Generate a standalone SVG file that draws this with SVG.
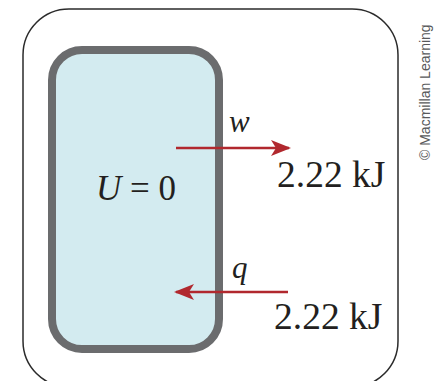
<svg xmlns="http://www.w3.org/2000/svg" width="438" height="381" viewBox="0 0 438 381">
<style>
.lbl{font-family:"Liberation Serif","Times New Roman",serif;fill:#231f20;}
.it{font-style:italic;}
.arr{stroke:#b1282e;stroke-width:2.5;fill:none;}
</style>
<defs>
<marker id="ah" viewBox="0 0 20 16" refX="18" refY="8" markerWidth="20" markerHeight="16" markerUnits="userSpaceOnUse" orient="auto">
<path d="M0,0 L20,8 L0,16 L5,8 Z" fill="#b1282e"/>
</marker>
</defs>
<rect width="438" height="381" fill="#fff"/>
<g id="surroundings">
<rect x="23" y="9" width="375" height="378" rx="46" fill="none" stroke="#2b2b2b" stroke-width="1.5"/>
</g>
<g id="system">
<rect x="52" y="50" width="167" height="299" rx="30" fill="#d3ebf0" stroke="#6b6c6e" stroke-width="8"/>
<text class="lbl" x="96" y="200" font-size="35"><tspan class="it">U</tspan> = 0</text>
</g>
<g id="connectors">
<line class="arr" x1="176" y1="148" x2="289" y2="148" marker-end="url(#ah)"/>
<line class="arr" x1="288" y1="292" x2="176" y2="292" marker-end="url(#ah)"/>
</g>
<g id="labels">
<text class="lbl it" x="229" y="132" font-size="31">w</text>
<text class="lbl" x="277" y="187" font-size="37.5">2.22 kJ</text>
<text class="lbl it" x="232" y="278" font-size="31">q</text>
<text class="lbl" x="274" y="329" font-size="37.5">2.22 kJ</text>
</g>
<text x="0" y="0" transform="translate(430,160) rotate(-90)" font-family="Liberation Sans,Arial,sans-serif" font-size="14" fill="#58595b">© Macmillan Learning</text>
</svg>
